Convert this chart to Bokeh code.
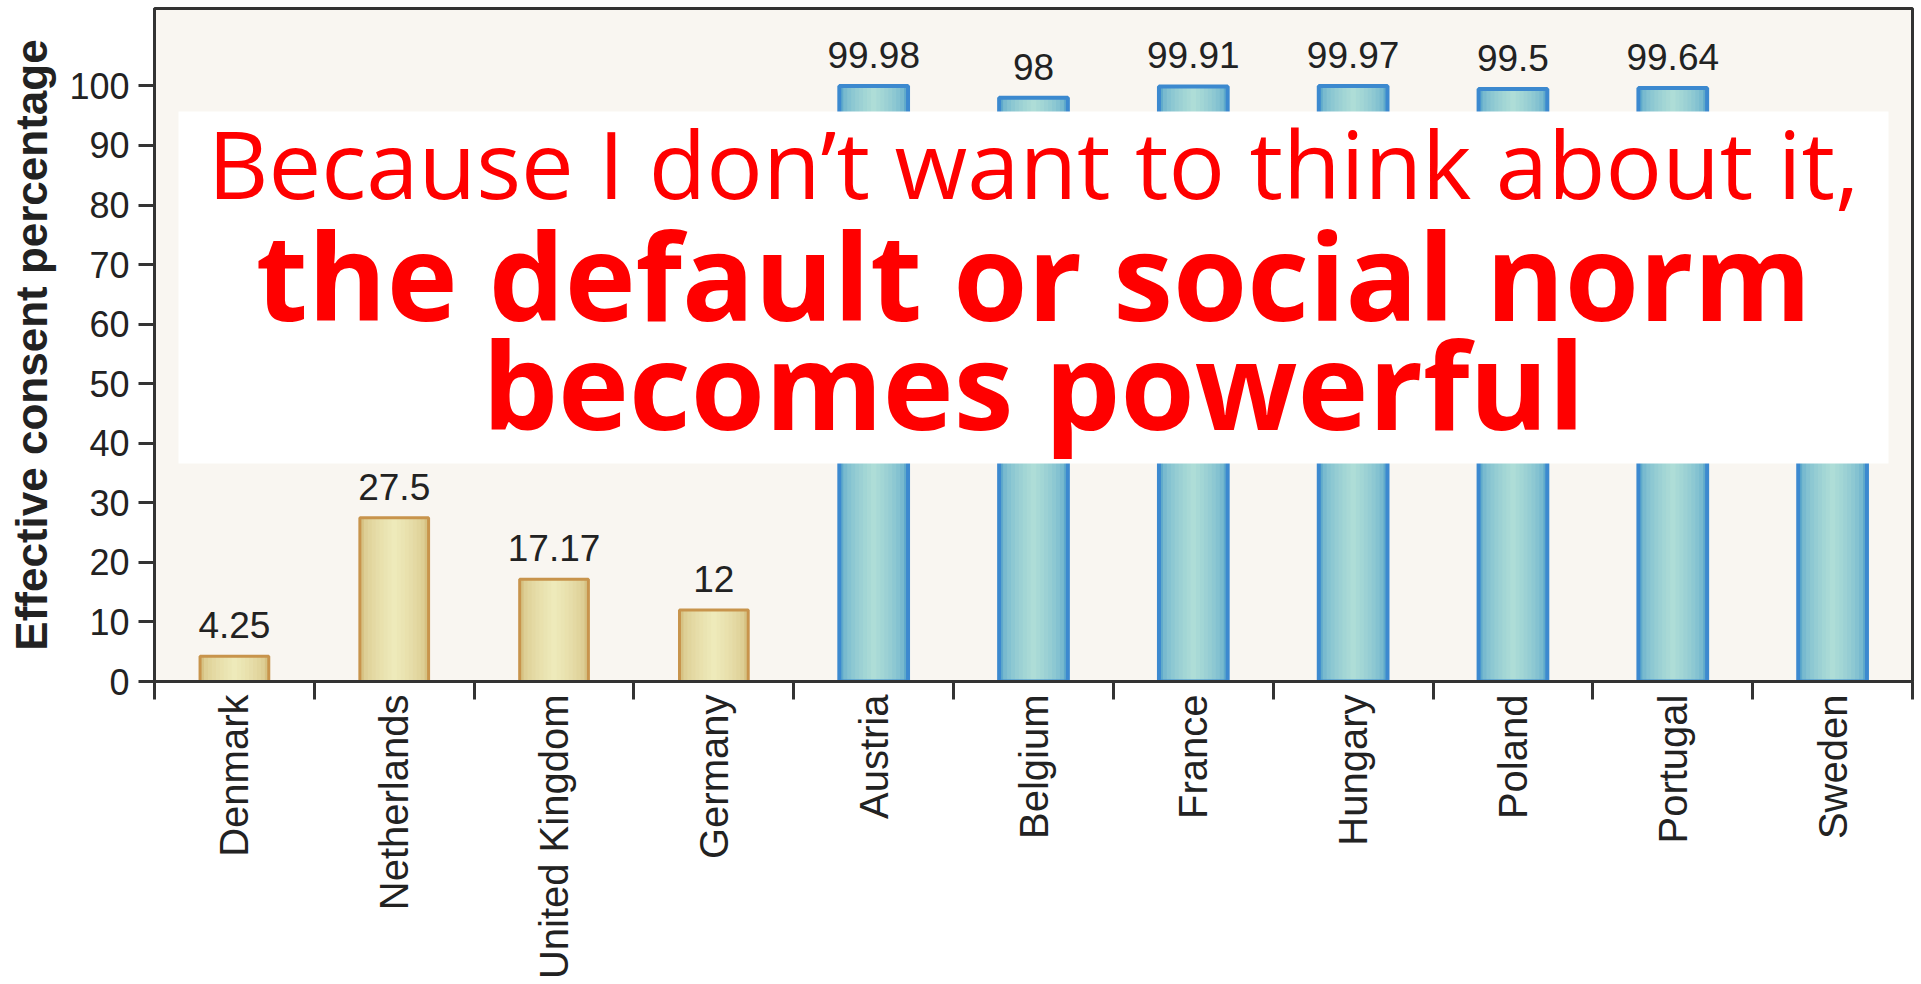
import math
import numpy as np
from bokeh.plotting import figure
from bokeh.models import (ColumnDataSource, FixedTicker, Range1d, LabelSet,
                          BoxAnnotation, Label)
from bokeh.core.properties import value
from bokeh.embed import file_html
from bokeh.resources import INLINE

# ---------------- data ----------------
countries = ["Denmark", "Netherlands", "United Kingdom", "Germany", "Austria",
             "Belgium", "France", "Hungary", "Poland", "Portugal", "Sweden"]
consent = [4.25, 27.5, 17.17, 12, 99.98, 98, 99.91, 99.97, 99.5, 99.64, 85.9]
policy = ["opt-in", "opt-in", "opt-in", "opt-in", "opt-out", "opt-out",
          "opt-out", "opt-out", "opt-out", "opt-out", "opt-out"]
y_ticks = [0, 10, 20, 30, 40, 50, 60, 70, 80, 90, 100]
y_title = "Effective consent percentage"
headline = ["Because I don\u2019t want to think about it,",
            "the default or social norm",
            "becomes powerful"]

# ---------------- figure ----------------
n = len(countries)
centers = [i + 0.5 for i in range(n)]
bounds = [float(i) for i in range(n + 1)]

p = figure(width=1921, height=984, output_backend="svg", toolbar_location=None,
           x_range=Range1d(0, n), y_range=Range1d(0, 113),
           min_border_left=154, min_border_right=9, min_border_top=8,
           min_border_bottom=303)
p.border_fill_color = "white"
p.background_fill_color = "#F9F6F1"
p.outline_line_color = "#333333"
p.outline_line_width = 3
p.grid.visible = False

FONT = "Liberation Sans"
INK = "#222222"

# y axis
ya = p.yaxis[0]
ya.ticker = FixedTicker(ticks=y_ticks)
ya.axis_line_width = 3
ya.axis_line_color = "#333333"
ya.major_tick_line_width = 3
ya.major_tick_line_color = "#333333"
ya.major_tick_out = 16
ya.major_tick_in = 0
ya.minor_tick_line_color = None
ya.major_label_text_font = FONT
ya.major_label_text_font_size = "36px"
ya.major_label_text_color = INK
ya.major_label_standoff = 9
ya.axis_label = y_title
ya.axis_label_text_font = FONT
ya.axis_label_text_font_style = "bold"
ya.axis_label_text_font_size = "44px"
ya.axis_label_text_color = INK
ya.axis_label_standoff = 10

# x axis: labels at category centres, ticks at boundaries
xa = p.xaxis[0]
xa.ticker = FixedTicker(ticks=centers, minor_ticks=bounds)
xa.major_label_overrides = {c: name for c, name in zip(centers, countries)}
xa.axis_line_width = 3
xa.axis_line_color = "#333333"
xa.major_tick_out = 0
xa.major_tick_in = 0
xa.major_tick_line_color = None
xa.minor_tick_out = 18
xa.minor_tick_in = 0
xa.minor_tick_line_width = 3
xa.minor_tick_line_color = "#333333"
xa.major_label_orientation = math.pi / 2
xa.major_label_text_font = FONT
xa.major_label_text_font_size = "40px"
xa.major_label_text_color = INK
xa.major_label_standoff = -5

BAR_W = 0.43


def mix(c1, c2, t):
    a = [int(c1[i:i + 2], 16) for i in (1, 3, 5)]
    b = [int(c2[i:i + 2], 16) for i in (1, 3, 5)]
    return "#" + "".join("%02x" % int(round(a[j] + (b[j] - a[j]) * t)) for j in range(3))


def draw_group(name, edge, middle, border, lw):
    idx = [i for i, g in enumerate(policy) if g == name]
    src = ColumnDataSource(dict(x=[centers[i] for i in idx],
                                top=[consent[i] for i in idx]))
    layers = 9
    for k in range(layers):
        f = k / (layers - 1)
        w = BAR_W * (1 - 0.92 * f)
        col = mix(edge, middle, f ** 0.55)
        p.vbar(x="x", top="top", bottom=0, width=w, source=src,
               fill_color=col, line_color=None)
    p.vbar(x="x", top="top", bottom=0, width=BAR_W, source=src,
           fill_alpha=0, line_color=border, line_width=lw)


draw_group("opt-in", "#D6C283", "#EEEABA", "#C8944C", 3)
draw_group("opt-out", "#5FAACB", "#AEDDD7", "#3C89CF", 4)

# value labels
lab_src = ColumnDataSource(dict(x=centers, y=consent,
                                txt=[f"{v:g}" for v in consent]))
p.add_layout(LabelSet(x="x", y="y", text="txt", source=lab_src,
                      y_offset=18, text_align="center",
                      text_baseline="alphabetic", text_font=value(FONT),
                      text_font_size=value("37px"), text_color=INK))

# white overlay box with headline
p.add_layout(BoxAnnotation(left=0.15, right=10.85, top=95.7, bottom=36.6,
                           fill_color="white", fill_alpha=1.0,
                           line_color=None, level="overlay"))

mid_x = n / 2
styles = [("normal", "94px", 87.0), ("bold", "120px", 68.4), ("bold", "120px", 50.0)]
for txt, (fs, size, yb) in zip(headline, styles):
    p.add_layout(Label(x=mid_x, y=yb, text=txt, text_align="center",
                       text_baseline="alphabetic", text_font="Open Sans",
                       text_font_style=fs, text_font_size=size,
                       text_color="#FF0000", level="overlay"))

open("out.html", "w").write(file_html(p, INLINE))
